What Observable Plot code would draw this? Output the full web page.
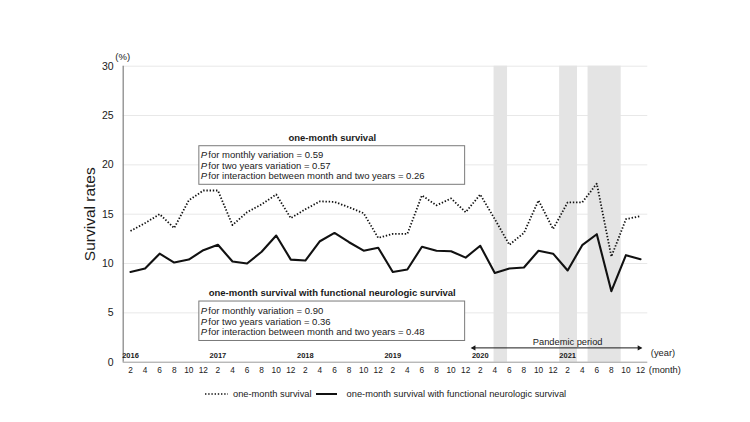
<!DOCTYPE html>
<html>
<head>
<meta charset="utf-8">
<script src="https://cdn.jsdelivr.net/npm/d3@7"></script>
<script src="https://cdn.jsdelivr.net/npm/@observablehq/plot@0.6"></script>
<style>
  body { margin: 0; background: #fff; font-family: "Liberation Sans", Arial, Helvetica, sans-serif; color: #1a1a1a; }
  #chart svg { display: block; }
  .legend { position: absolute; left: 205px; top: 388px; height: 12px; display: flex; align-items: center; font-size: 9.3px; white-space: nowrap; }
  .legend svg { display: block; }
</style>
</head>
<body>
<div id="chart"></div>
<div class="legend">
  <svg width="23" height="6"><line x1="0" y1="3" x2="23" y2="3" stroke="#111" stroke-width="1.7" stroke-dasharray="1.4 1.8"/></svg>
  <span style="margin-left:5px">one-month survival</span>
  <svg width="21" height="6" style="margin-left:4px"><line x1="0" y1="3" x2="21" y2="3" stroke="#111" stroke-width="2"/></svg>
  <span style="margin-left:10px">one-month survival with functional neurologic survival</span>
</div>
<script>
// Survey years and the even months reported in each year
const years = [2016, 2017, 2018, 2019, 2020, 2021];
const months = [2, 4, 6, 8, 10, 12];

// One-month survival rate (%), bimonthly, 2016 Feb – 2021 Dec
const oneMonthSurvival = [
  13.3, 14.1, 15.0, 13.6, 16.4, 17.4,
  17.4, 13.9, 15.2, 16.0, 17.0, 14.6,
  15.5, 16.3, 16.25, 15.7, 15.1, 12.6,
  13.0, 13.0, 16.9, 15.9, 16.6, 15.2,
  17.0, 14.5, 11.9, 13.1, 16.4, 13.5,
  16.2, 16.2, 18.1, 10.7, 14.5, 14.8
];

// One-month survival with functional neurologic survival (%)
const functionalSurvival = [
  9.15, 9.5, 11.0, 10.1, 10.4, 11.35,
  11.9, 10.2, 10.0, 11.2, 12.84, 10.4,
  10.3, 12.26, 13.1, 12.16, 11.3, 11.6,
  9.15, 9.4, 11.7, 11.3, 11.25, 10.6,
  11.8, 9.05, 9.5, 9.6, 11.3, 11.0,
  9.3, 11.86, 12.97, 7.2, 10.85, 10.44
];

// Statistical test results for each outcome
const outcomeTitles = ["one-month survival", "one-month survival with functional neurologic survival"];
const pMonthly = ["0.59", "0.90"];
const pTwoYears = ["0.57", "0.36"];
const pInteraction = ["0.26", "0.48"];

// State-of-emergency periods, in months counted from January 2016 (month index)
const emergencyPeriods = [
  {from: 51.9, to: 53.75},
  {from: 60.9, to: 63.35},
  {from: 64.8, to: 69.35}
];
const pandemicPeriod = [{from: 48.85, to: 72.1, label: "Pandemic period"}];

// Month index: months since December 2015
const monthIndex = (yr, m) => (yr - 2016) * 12 + m;

const rows = [];
years.forEach((yr, i) => months.forEach((m, j) => {
  const k = i * months.length + j;
  rows.push({t: monthIndex(yr, m), month: m, survival: oneMonthSurvival[k], functional: functionalSurvival[k]});
}));

// Placement of the two annotation boxes (data units)
const boxLayout = [
  {x1: 11.45, x2: 47.93, y1: 17.98, y2: 21.89},
  {x1: 11.45, x2: 47.93, y1: 2.15, y2: 6.15}
];
const boxes = boxLayout.map((b, i) => ({
  ...b,
  title: outcomeTitles[i],
  body: [
    `for monthly variation = ${pMonthly[i]}`,
    `for two years variation = ${pTwoYears[i]}`,
    `for interaction between month and two years = ${pInteraction[i]}`
  ].join("\n")
}));

const font = "'Liberation Sans', Arial, Helvetica, sans-serif";
const ink = "#1a1a1a";

const chart = Plot.plot({
  width: 750,
  height: 382,
  marginLeft: 122.7,
  marginRight: 102.7,
  marginTop: 65.7,
  marginBottom: 20.3,
  style: {fontFamily: font, fontSize: "10px", color: ink, background: "white"},
  x: {domain: [1, 73], label: null},
  y: {domain: [0, 30], label: null},
  marks: [
    Plot.gridY([5, 10, 15, 20, 25, 30], {stroke: "#e8e8e8", strokeOpacity: 1}),
    Plot.rect(emergencyPeriods, {x1: "from", x2: "to", y1: 0, y2: 30, fill: "#e4e4e4"}),
    Plot.ruleX([1], {y1: 0, y2: 30, stroke: "#8a8a8a", strokeWidth: 1.3}),
    Plot.ruleY([0], {x1: 1, x2: 73, stroke: "#9a9a9a"}),
    Plot.axisY({ticks: [0, 5, 10, 15, 20, 25, 30], tickSize: 0, tickPadding: 9.5, fontSize: 10.5, label: null}),
    Plot.axisX({ticks: rows.map(d => d.t), tickFormat: t => ((t - 1) % 12) + 1, tickSize: 0, tickPadding: 4.5, fontSize: 8.3, label: null}),
    Plot.text(years, {x: yr => monthIndex(yr, 2), y: 0, dy: -6.7, text: d => String(d), fontWeight: "bold", fontSize: 7.5}),
    Plot.text(["(year)"], {x: 73, y: 0, dx: 3, dy: -9, textAnchor: "start", fontSize: 9.3}),
    Plot.text(["(month)"], {x: 73, y: 0, dx: 1, dy: 7.6, textAnchor: "start", fontSize: 9.3}),
    Plot.text(["(%)"], {x: 1, y: 30, dx: -0.5, dy: -9, fontSize: 9.5}),
    Plot.text(["Survival rates"], {frameAnchor: "left", textAnchor: "middle", rotate: -90, dx: -33, fontSize: 15.5}),

    // pandemic period double arrow
    Plot.link(pandemicPeriod, {x1: "from", x2: "to", y1: 1.45, y2: 1.45, stroke: ink, strokeWidth: 1}),
    Plot.dot(pandemicPeriod, {x: "from", y: 1.45, symbol: "triangle2", r: 2.6, rotate: -90, fill: ink, dx: 2}),
    Plot.dot(pandemicPeriod, {x: "to", y: 1.45, symbol: "triangle2", r: 2.6, rotate: 90, fill: ink, dx: -2}),
    Plot.text(pandemicPeriod, {x: d => 62, y: 1.45, dy: -6.3, text: "label", fontSize: 9.3}),

    // annotation boxes
    Plot.rect(boxes, {x1: "x1", x2: "x2", y1: "y1", y2: "y2", fill: "white", stroke: "#7a7a7a", strokeWidth: 1}),
    Plot.text(boxes, {x: d => (d.x1 + d.x2) / 2, y: "y2", dy: -8.7, text: "title", fontWeight: "bold", fontSize: 9.5}),
    Plot.text(boxes, {x: "x1", y: d => (d.y1 + d.y2) / 2, dx: 1.5, text: () => "P\nP\nP", fontStyle: "italic", textAnchor: "start", lineHeight: 1.1, fontSize: 9.5}),
    Plot.text(boxes, {x: "x1", y: d => (d.y1 + d.y2) / 2, dx: 9, text: "body", textAnchor: "start", lineHeight: 1.1, fontSize: 9.5}),

    // series
    Plot.line(rows, {x: "t", y: "survival", stroke: "#111", strokeWidth: 1.8, strokeDasharray: "1.4 1.8", strokeLinecap: "butt"}),
    Plot.line(rows, {x: "t", y: "functional", stroke: "#111", strokeWidth: 2.1})
  ]
});

document.getElementById("chart").append(chart);
</script>
</body>
</html>
